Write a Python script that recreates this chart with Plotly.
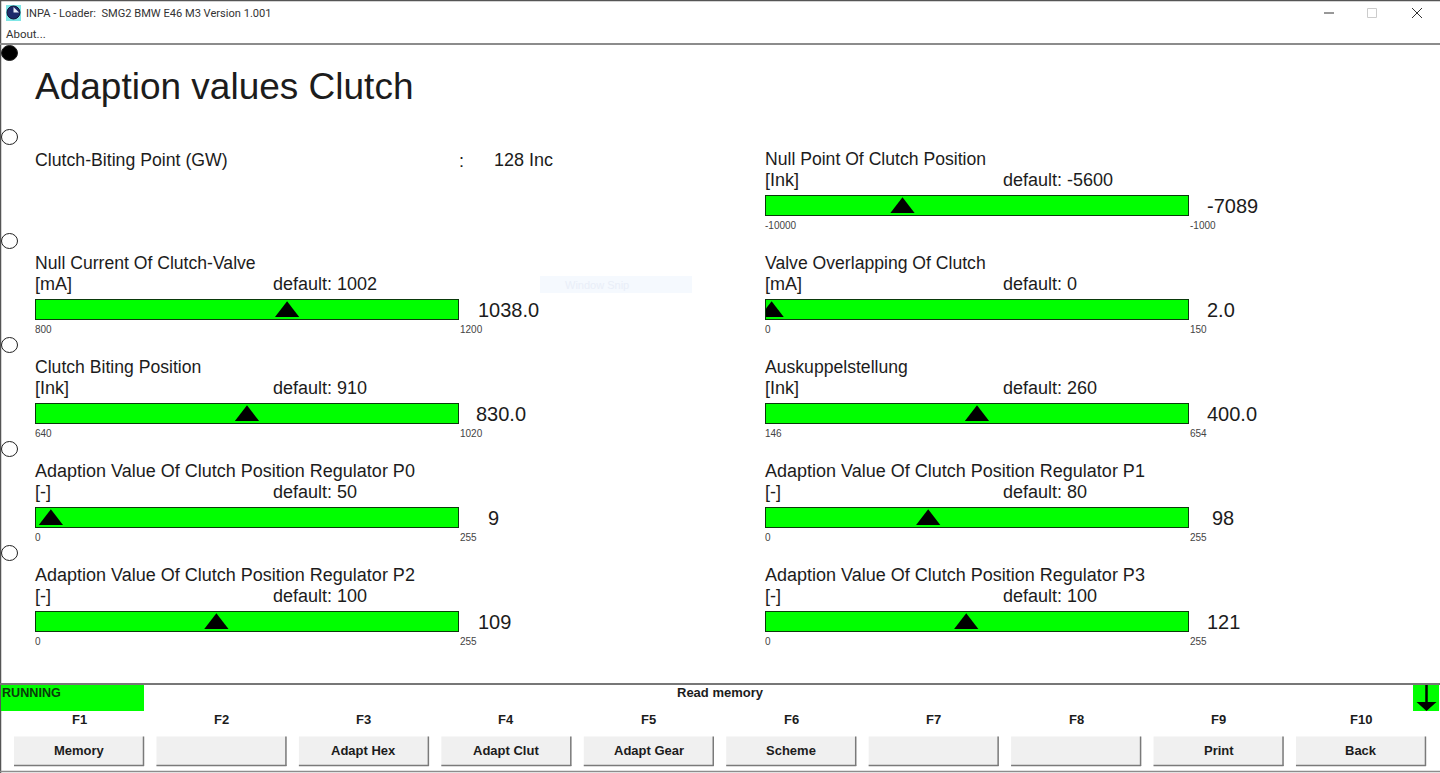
import plotly.graph_objects as go

# ---------- data ----------
gauge_titles = ["Null Point Of Clutch Position", "Null Current Of Clutch-Valve", "Valve Overlapping Of Clutch",
                "Clutch Biting Position", "Auskuppelstellung",
                "Adaption Value Of Clutch Position Regulator P0", "Adaption Value Of Clutch Position Regulator P1",
                "Adaption Value Of Clutch Position Regulator P2", "Adaption Value Of Clutch Position Regulator P3"]
gauge_units = ["[Ink]", "[mA]", "[mA]", "[Ink]", "[Ink]", "[-]", "[-]", "[-]", "[-]"]
gauge_defaults = ["-5600", "1002", "0", "910", "260", "50", "80", "100", "100"]
gauge_mins = [-10000, 800, 0, 640, 146, 0, 0, 0, 0]
gauge_maxs = [-1000, 1200, 150, 1020, 654, 255, 255, 255, 255]
gauge_values = [-7089, 1038.0, 2.0, 830.0, 400.0, 9, 98, 109, 121]
gauge_value_labels = ["-7089", "1038.0", "2.0", "830.0", "400.0", "9", "98", "109", "121"]
fkey_labels = ["F1", "F2", "F3", "F4", "F5", "F6", "F7", "F8", "F9", "F10"]
button_labels = ["Memory", "", "Adapt Hex", "Adapt Clut", "Adapt Gear", "Scheme", "", "", "Print", "Back"]

# ---------- layout constants (pixels) ----------
W, H = 1440, 773
gauge_col = [1, 0, 1, 0, 1, 0, 1, 0, 1]
gauge_row = [0, 1, 1, 2, 2, 3, 3, 4, 4]
row_top = [195, 299, 403, 507, 611]
col_left = [35, 765]
bar_w, bar_h = 424, 21
value_x = [1206, 477, 1206, 475, 1206, 487, 1211, 477, 1206]
SANS = "Liberation Sans"
TXT = "#1c1c1c"

fig = go.Figure()
shapes, ann = [], []

def text(x, y, s, size, font=SANS, color=TXT, anchor="left", weight=None, xref="x", yref="y", xshift=0):
    f = dict(family=font, size=size, color=color)
    if weight:
        f["weight"] = weight
    ann.append(dict(x=x, y=y, xref=xref, yref=yref, text=s, showarrow=False, xanchor=anchor,
                    yanchor="middle", font=f, borderpad=0, xshift=xshift))

def rect(x0, y0, x1, y1, fill, line=None, lw=0):
    shapes.append(dict(type="rect", x0=x0, y0=y0, x1=x1, y1=y1, xref="x", yref="y", fillcolor=fill,
                       line=dict(color=line or fill, width=lw), layer="below"))

def line(x0, y0, x1, y1, color, lw=1):
    shapes.append(dict(type="line", x0=x0, y0=y0, x1=x1, y1=y1, xref="x", yref="y",
                       line=dict(color=color, width=lw), layer="below"))

# base pixel canvas trace
fig.add_trace(go.Scatter(x=[0], y=[0], mode="markers", marker=dict(opacity=0), hoverinfo="skip",
                         showlegend=False, xaxis="x", yaxis="y"))

# window frame
line(0, 0.5, W, 0.5, "#555555", 1.5)
line(0.5, 0, 0.5, H, "#555555", 1.5)
line(0, 44, W, 44, "#8c8c8c", 2)
line(0, 684, W, 684, "#777777", 2)
line(0, 771.5, W, 771.5, "#8c8c8c", 1.5)

# title bar
rect(6, 5, 21, 21, "#7fe6e6")
shapes.append(dict(type="circle", x0=7, y0=6, x1=20, y1=19, xref="x", yref="y", fillcolor="#1c2a6b",
                   line=dict(color="#111133", width=1)))
shapes.append(dict(type="path", path="M 13.5 7 L 19 12.5 L 13.5 12.5 Z", xref="x", yref="y",
                   fillcolor="#e8eef8", line=dict(width=0)))
text(25, 13.5, "INPA - Loader:  SMG2 BMW E46 M3 Version 1.001", 11.1, "Roboto", "#333333")
text(5, 33.5, "About...", 11.5, "Roboto", "#333333")
line(1324, 13, 1334, 13, "#333333", 1)
shapes.append(dict(type="rect", x0=1367.5, y0=8.5, x1=1376.5, y1=17.5, xref="x", yref="y",
                   line=dict(color="#cccccc", width=1)))
line(1412, 8, 1422, 18, "#333333", 1)
line(1422, 8, 1412, 18, "#333333", 1)

# radio circles
for i, cy in enumerate([53, 137, 241, 345, 449, 553]):
    shapes.append(dict(type="circle", x0=1.5, y0=cy - 7.5, x1=17.5, y1=cy + 7.5, xref="x", yref="y",
                       fillcolor="#000000" if i == 0 else "#ffffff", line=dict(color="#222222", width=1)))

# headings
text(35, 86.5, "Adaption values Clutch", 37, xshift=-1)
text(35, 160, "Clutch-Biting Point (GW)", 17.7, xshift=-1)
text(459, 161, ":", 18, xshift=-1)
text(494, 160, "128 Inc", 18, xshift=-1)

# window snip ghost
rect(540, 276, 692, 293, "#f5f9fe")
text(565, 285, "Window Snip", 11, color="#e9eef8", xshift=-1)

# gauges
axes = {}
for i in range(len(gauge_titles)):
    left, top = col_left[gauge_col[i]], row_top[gauge_row[i]]
    n = i + 2
    xname, yname = f"x{n}", f"y{n}"
    lo, hi = gauge_mins[i], gauge_maxs[i]
    axes[f"xaxis{n}"] = dict(domain=[(left + 1) / W, (left + bar_w - 1) / W], range=[lo, hi], anchor=yname,
                             showgrid=False, zeroline=False, showticklabels=False, ticks="", showline=True,
                             mirror=True, linecolor="#0a3a0a", linewidth=1)
    axes[f"yaxis{n}"] = dict(domain=[1 - (top + bar_h - 1) / H, 1 - (top + 1) / H], range=[0, 1], anchor=xname,
                             showgrid=False, zeroline=False, showticklabels=False, ticks="", showline=True,
                             mirror=True, linecolor="#0a3a0a", linewidth=1)
    fig.add_trace(go.Bar(x=[hi - lo], base=[lo], y=[0.5], width=[1], orientation="h",
                         marker=dict(color="#00ff00", line=dict(width=0)),
                         hoverinfo="skip", showlegend=False, xaxis=xname, yaxis=yname))
    fig.add_trace(go.Scatter(x=[gauge_values[i]], y=[0.38], mode="markers", cliponaxis=True,
                             marker=dict(symbol="triangle-up", size=21, color="#000000", line=dict(width=0)),
                             hoverinfo="skip", showlegend=False, xaxis=xname, yaxis=yname))
    title_size = 18 if "Regulator" in gauge_titles[i] else 17.6
    text(left, top - 36.2, gauge_titles[i], title_size, xshift=-1)
    text(left, top - 15, gauge_units[i], 18, xshift=-1)
    text(left + 238, top - 15, "default: " + gauge_defaults[i], 18, xshift=-1)
    text(value_x[i], top + 11, gauge_value_labels[i], 20)
    text(lo, top + 30, str(lo), 10, color="#444444", xref=xname, yref="y", xshift=-2)
    text(hi, top + 30, str(hi), 10, color="#444444", xref=xname, yref="y", xshift=1)

# status strip
rect(1, 685, 144, 711, "#00ff00")
text(1, 692.5, "RUNNING", 12.6, color="#0a3a0a", weight=700)
text(720, 692.5, "Read memory", 13, SANS, "#1c1c1c", anchor="center", weight=700)
rect(1413, 685, 1439, 711, "#00ff00")
line(1426.5, 685, 1426.5, 704, "#000000", 2.5)
shapes.append(dict(type="path", path="M 1416.5 702 L 1436.5 702 L 1426.5 711 Z", xref="x", yref="y",
                   fillcolor="#000000", line=dict(width=0)))

# function keys
for i in range(10):
    bx = 14 + i * 142.44
    rect(bx, 736.5, bx + 130, 766, "#f0f0f0")
    line(bx, 765.5, bx + 130, 765.5, "#7a7a7a", 1.5)
    line(bx + 129.5, 736.5, bx + 129.5, 766, "#7a7a7a", 1.5)
    text(bx + 65, 719, fkey_labels[i], 13, SANS, "#1c1c1c", anchor="center", weight=700)
    if button_labels[i]:
        text(bx + 65, 750.5, button_labels[i], 13, SANS, "#1c1c1c", anchor="center", weight=700)

fig.update_layout(
    width=W, height=H, margin=dict(l=0, r=0, t=0, b=0), autosize=False,
    paper_bgcolor="#ffffff", plot_bgcolor="rgba(0,0,0,0)", showlegend=False, bargap=0,
    shapes=shapes, annotations=ann,
    xaxis=dict(range=[0, W], domain=[0, 1], visible=False, fixedrange=True),
    yaxis=dict(range=[H, 0], domain=[0, 1], visible=False, fixedrange=True),
    **axes,
)
fig.write_html("out.html", config=dict(displayModeBar=False, responsive=False),
               post_script="document.body.style.margin='0';document.body.style.overflow='hidden';")
